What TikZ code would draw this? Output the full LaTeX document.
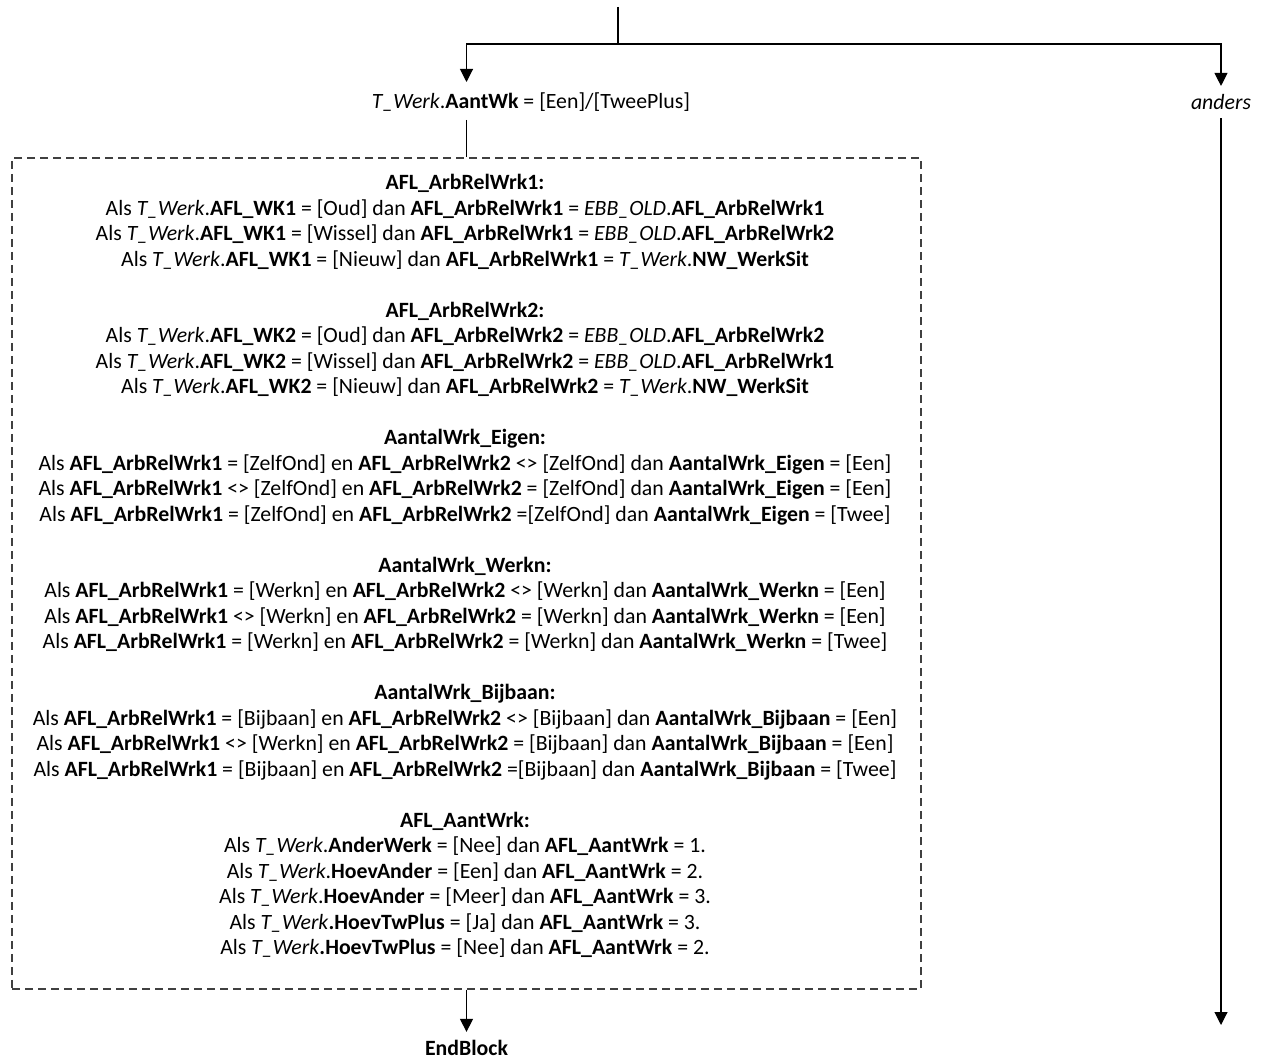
\documentclass[tikz,border=0pt]{standalone}
\usepackage{fontspec}
\setmainfont{Carlito}
\usepackage{tikz}
\usetikzlibrary{arrows.meta,positioning}

\newcommand{\tw}{\textit{T\_Werk}}

\begin{document}
\begin{tikzpicture}[
        x=0.5pt,y=-0.5pt,
        every node/.style={font=\fontsize{10.9}{12.75}\selectfont,align=center,inner sep=4pt},
        blokstijl/.style={draw=black!75,line width=0.55pt,dash pattern=on 4pt off 2.5pt,
                   minimum width=454.5pt,minimum height=415.5pt},
        pijl/.style={-{Triangle[length=6.5pt,width=6.5pt]},line width=0.55pt},
        lijn/.style={line width=0.55pt}
    ]
        \useasboundingbox (0,0) rectangle (1264,1058);
        \coordinate (begin) at (618,7);
        \coordinate (splits) at (618,44);
        \coordinate (tipL) at (466.5,82);
        \coordinate (uitL) at (466.5,120);
        \coordinate (eindR) at (1221,1025);

        \node (voorw) at (531,102) {\tw.\textbf{AantWk} = [Een]/[TweePlus]};
        \node (anders) at (1221,102) {\textit{anders}};
        \node[blokstijl] (blok) at (466.5,573.5) {};
        \node[anchor=north,inner sep=0pt] (regels) at (465,174) {%
        \textbf{AFL\_ArbRelWrk1:}\\
        Als \tw.\textbf{AFL\_WK1} = [Oud] dan \textbf{AFL\_ArbRelWrk1} = \textit{EBB\_OLD}.\textbf{AFL\_ArbRelWrk1}\\
        Als \tw.\textbf{AFL\_WK1} = [Wissel] dan \textbf{AFL\_ArbRelWrk1} = \textit{EBB\_OLD}.\textbf{AFL\_ArbRelWrk2}\\
        Als \tw.\textbf{AFL\_WK1} = [Nieuw] dan \textbf{AFL\_ArbRelWrk1} = \tw.\textbf{NW\_WerkSit}\\[12.75pt]
        \textbf{AFL\_ArbRelWrk2:}\\
        Als \tw.\textbf{AFL\_WK2} = [Oud] dan \textbf{AFL\_ArbRelWrk2} = \textit{EBB\_OLD}.\textbf{AFL\_ArbRelWrk2}\\
        Als \tw.\textbf{AFL\_WK2} = [Wissel] dan \textbf{AFL\_ArbRelWrk2} = \textit{EBB\_OLD}.\textbf{AFL\_ArbRelWrk1}\\
        Als \tw.\textbf{AFL\_WK2} = [Nieuw] dan \textbf{AFL\_ArbRelWrk2} = \tw.\textbf{NW\_WerkSit}\\[12.75pt]
        \textbf{AantalWrk\_Eigen:}\\
        Als \textbf{AFL\_ArbRelWrk1} = [ZelfOnd] en \textbf{AFL\_ArbRelWrk2} <> [ZelfOnd] dan \textbf{AantalWrk\_Eigen} = [Een]\\
        Als \textbf{AFL\_ArbRelWrk1} <> [ZelfOnd] en \textbf{AFL\_ArbRelWrk2} = [ZelfOnd] dan \textbf{AantalWrk\_Eigen} = [Een]\\
        Als \textbf{AFL\_ArbRelWrk1} = [ZelfOnd] en \textbf{AFL\_ArbRelWrk2} =[ZelfOnd] dan \textbf{AantalWrk\_Eigen} = [Twee]\\[12.75pt]
        \textbf{AantalWrk\_Werkn:}\\
        Als \textbf{AFL\_ArbRelWrk1} = [Werkn] en \textbf{AFL\_ArbRelWrk2} <> [Werkn] dan \textbf{AantalWrk\_Werkn} = [Een]\\
        Als \textbf{AFL\_ArbRelWrk1} <> [Werkn] en \textbf{AFL\_ArbRelWrk2} = [Werkn] dan \textbf{AantalWrk\_Werkn} = [Een]\\
        Als \textbf{AFL\_ArbRelWrk1} = [Werkn] en \textbf{AFL\_ArbRelWrk2} = [Werkn] dan \textbf{AantalWrk\_Werkn} = [Twee]\\[12.75pt]
        \textbf{AantalWrk\_Bijbaan:}\\
        Als \textbf{AFL\_ArbRelWrk1} = [Bijbaan] en \textbf{AFL\_ArbRelWrk2} <> [Bijbaan] dan \textbf{AantalWrk\_Bijbaan} = [Een]\\
        Als \textbf{AFL\_ArbRelWrk1} <> [Werkn] en \textbf{AFL\_ArbRelWrk2} = [Bijbaan] dan \textbf{AantalWrk\_Bijbaan} = [Een]\\
        Als \textbf{AFL\_ArbRelWrk1} = [Bijbaan] en \textbf{AFL\_ArbRelWrk2} =[Bijbaan] dan \textbf{AantalWrk\_Bijbaan} = [Twee]\\[12.75pt]
        \textbf{AFL\_AantWrk:}\\
        Als \tw.\textbf{AnderWerk} = [Nee] dan \textbf{AFL\_AantWrk} = 1.\\
        Als \tw.\textbf{HoevAnder} = [Een] dan \textbf{AFL\_AantWrk} = 2.\\
        Als \tw.\textbf{HoevAnder} = [Meer] dan \textbf{AFL\_AantWrk} = 3.\\
        Als \tw\textbf{.HoevTwPlus} = [Ja] dan \textbf{AFL\_AantWrk} = 3.\\
        Als \tw\textbf{.HoevTwPlus} = [Nee] dan \textbf{AFL\_AantWrk} = 2.};
        \node (eind) at (466.5,1048) {\textbf{EndBlock}};

        \draw[lijn] (begin) -- (splits);
        \draw[pijl] (splits) -| (tipL);
        \draw[pijl] (splits) -| (anders.north);
        \draw[lijn] (uitL) -- (blok.north);
        \draw[pijl] (blok.south) -- (eind.north);
        \draw[pijl] (anders.south) -- (eindR);
    \end{tikzpicture}
\end{document}
